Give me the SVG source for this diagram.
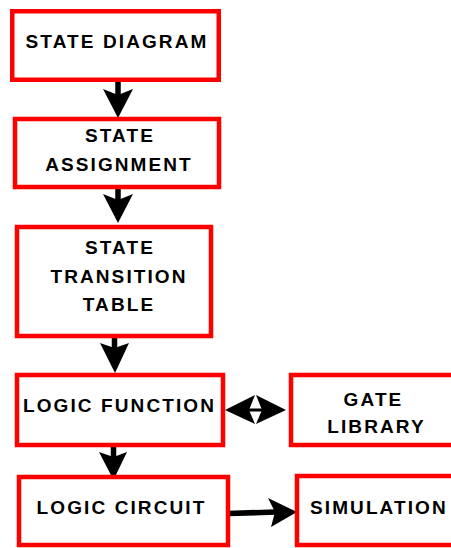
<svg xmlns="http://www.w3.org/2000/svg" width="451" height="548" viewBox="0 0 451 548">
<style>
.box{fill:#ffffff;stroke:#ff0000;stroke-width:4.5}
.t{font-family:"Liberation Sans",Arial,sans-serif;font-weight:bold;font-size:19px;letter-spacing:2.1px;fill:#000000;text-anchor:middle}
.s{fill:none;stroke:#000000;stroke-width:5.5}
.h{fill:#000000;stroke:none}
</style>
<rect width="451" height="548" fill="#ffffff"/>
<g id="connectors">
<line class="s" x1="118" y1="82" x2="118" y2="96"/>
<polygon class="h" points="103,89 118,95 133,89 118,118"/>
<line class="s" x1="118" y1="189" x2="118" y2="201"/>
<polygon class="h" points="103,194 118,200 133,194 118,223"/>
<line class="s" x1="114.5" y1="337" x2="114.5" y2="349"/>
<polygon class="h" points="100,343 114.5,348 129,343 115,373"/>
<line class="s" x1="113.5" y1="446" x2="113.5" y2="458"/>
<polygon class="h" points="99,452 113.5,457 127,452 113.5,480"/>
<line class="s" x1="228" y1="513.5" x2="276" y2="512"/>
<polygon class="h" points="268,498 275,512 271,527 297,512"/>
<line x1="248" y1="410" x2="262" y2="410" stroke="#000" stroke-width="3"/>
<polygon class="h" points="225,410 255,395 249,410 255,424"/>
<polygon class="h" points="286,410 256,395 262,410 256,424"/>
</g>
<g id="state-diagram">
<rect class="box" x="12.25" y="11.25" width="206.5" height="68.5"/>
<text class="t" x="117" y="48">STATE DIAGRAM</text>
</g>
<g id="state-assignment">
<rect class="box" x="15" y="119" width="204" height="68"/>
<text class="t" x="120" y="142">STATE</text>
<text class="t" x="119" y="171">ASSIGNMENT</text>
</g>
<g id="state-transition-table">
<rect class="box" x="17" y="227" width="194" height="109"/>
<text class="t" x="120" y="254">STATE</text>
<text class="t" x="119" y="283">TRANSITION</text>
<text class="t" x="119" y="311">TABLE</text>
</g>
<g id="logic-function">
<rect class="box" x="17" y="375" width="206" height="70"/>
<text class="t" x="119.5" y="412">LOGIC FUNCTION</text>
</g>
<g id="logic-circuit">
<rect class="box" x="19" y="477" width="209" height="68"/>
<text class="t" x="121.5" y="514">LOGIC CIRCUIT</text>
</g>
<g id="gate-library">
<rect class="box" x="291" y="375" width="200" height="70"/>
<text class="t" x="373.5" y="406">GATE</text>
<text class="t" x="376.5" y="433">LIBRARY</text>
</g>
<g id="simulation">
<rect class="box" x="297" y="476" width="200" height="69"/>
<text class="t" x="310" y="514" style="text-anchor:start">SIMULATION</text>
</g>
</svg>
